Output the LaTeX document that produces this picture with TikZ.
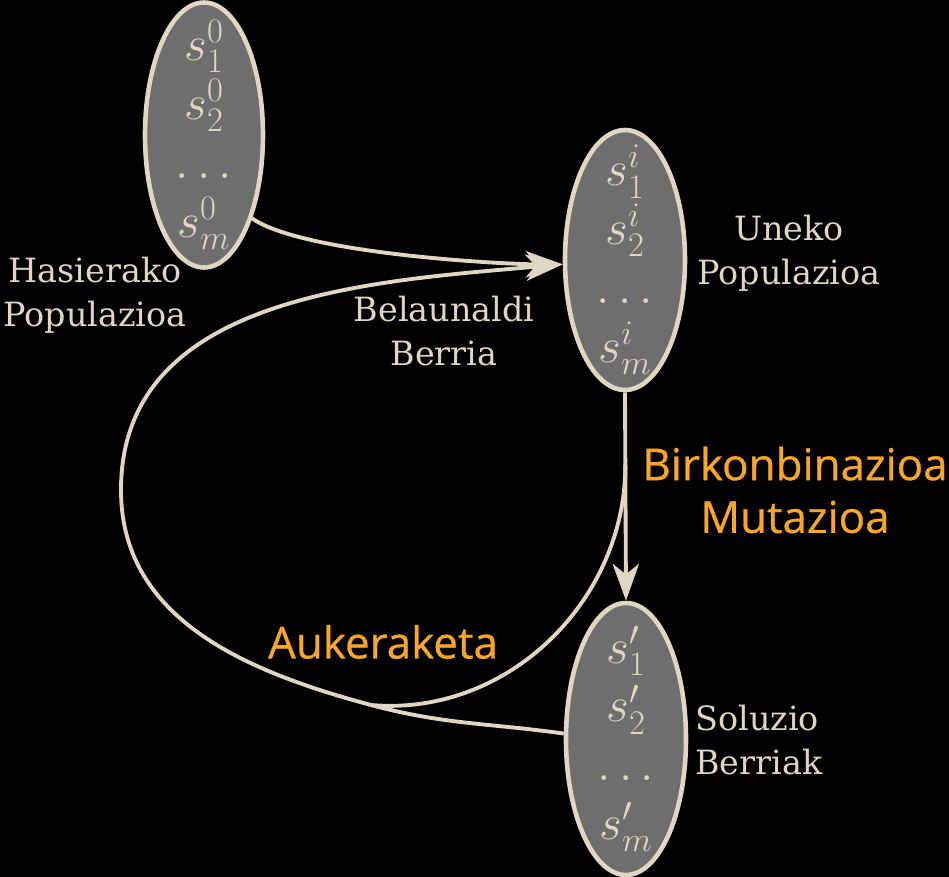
\RequirePackage{fix-cm}
\documentclass[tikz,border=0pt]{standalone}
\usepackage{fontspec}
\setmainfont{DejaVu Serif}
\newfontfamily\opfont[FakeBold=0.6]{Open Sans}
\usetikzlibrary{arrows.meta, positioning, shapes.geometric, calc}
\definecolor{Cream}{RGB}{222, 215, 195}
\definecolor{PopGray}{RGB}{110, 110, 110}
\definecolor{OpOrange}{RGB}{249, 167, 37}

\begin{document}
\begin{tikzpicture}[pop/.style={ellipse, draw=Cream, line width=2.6pt, fill=PopGray, inner sep=0pt, minimum width=2.36cm, minimum height=5.3cm},
  stk/.style={text=Cream, align=center, inner sep=0pt, font=\fontsize{28}{33.5}\selectfont},
  lbl/.style={text=Cream, align=center, inner sep=0pt, font=\fontsize{19}{25}\selectfont},
  op/.style={text=OpOrange, align=center, inner sep=0pt, font=\opfont\fontsize{25}{30}\selectfont},
  ln/.style={Cream, line width=2.2pt}, ar/.style={ln, -{Stealth[length=21pt, width=15pt, inset=6pt]}}]
\fill[black] (0,0) rectangle (18.98,-17.54);
\useasboundingbox (0,0) rectangle (18.98,-17.54);
% populations
\node[pop] (s0) at (4.08,-2.7) {};
\node[stk] (s0txt) at (s0) {$s_1^0$\\$s_2^0$\\$\dots$\\$s_m^0$};
\node[pop, minimum width=2.4cm, minimum height=5.2cm] (u) at (12.5,-5.2) {};
\node[stk] (utxt) at (u) {$s_1^i$\\$s_2^i$\\$\dots$\\$s_m^i$};
\node[pop, minimum width=2.4cm, minimum height=5.44cm] (sol) at (12.52,-14.78) {};
\node[stk] (soltxt) at (sol) {$s_1^{\prime}$\\$s_2^{\prime}$\\$\dots$\\$s_m^{\prime}$};
% labels
\node[lbl] (hp) at (1.9,-5.9) {Hasierako\\Populazioa};
\node[lbl] (bb) at (8.88,-6.62) {Belaunaldi\\Berria};
\node[lbl] (up) at (15.78,-5.06) {Uneko\\Populazioa};
\node[lbl, align=left, anchor=west] (sb) at (13.9,-14.8) {Soluzio\\Berriak};
\node[op] (bm) at (15.9,-9.8) {Birkonbinazioa\\Mutazioa};
\node[op] (auk) at (7.66,-12.84) {Aukeraketa};
% connectors
\coordinate (j) at (7.42,-14.1);
\coordinate (l) at (2.42,-9.8);
\coordinate (m) at ($(u.south)!0.35!(sol.north)$);
\draw[ar] (s0.-60) to[out=-35, in=180, looseness=0.5] (u.184);
\draw[ar] (u.south) -- (sol.north);
\draw[ln] (m) to[out=-90, in=-5] (j);
\draw[ar] (sol.175) to[out=172, in=-15] (j) to[out=165, in=-90] (l) to[out=90, in=185] (u.184);
\end{tikzpicture}
\end{document}
